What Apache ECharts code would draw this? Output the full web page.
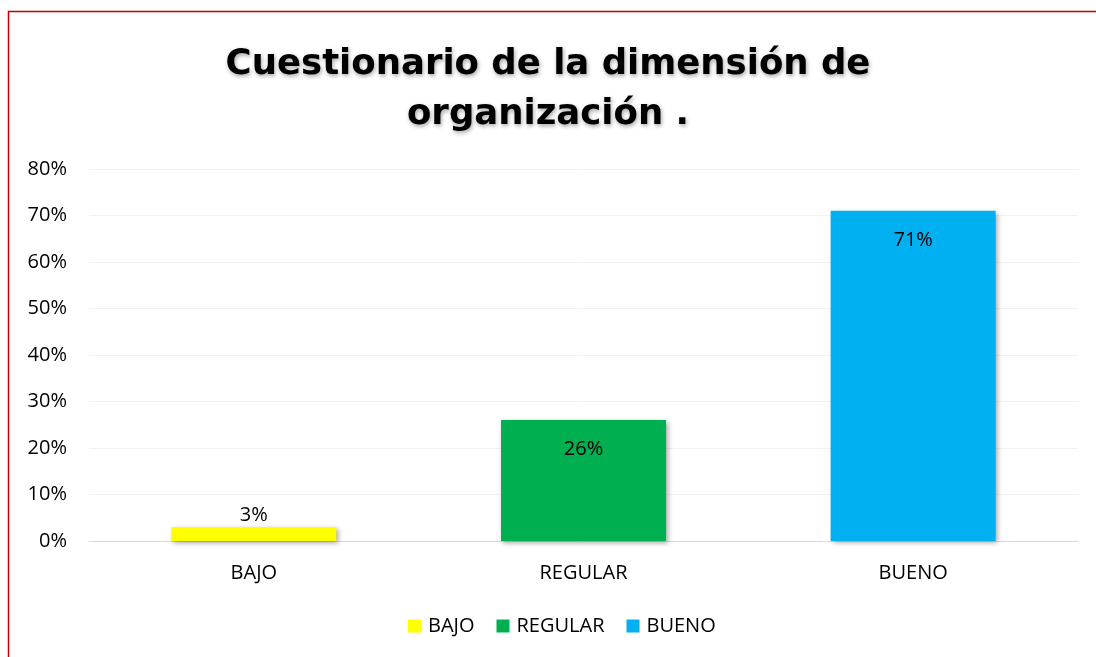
<!DOCTYPE html>
<html>
<head>
<meta charset="utf-8">
<script src="https://cdn.jsdelivr.net/npm/echarts@6/dist/echarts.min.js"></script>
<style>
    html, body { margin: 0; padding: 0; background: #fff; }
    #chart { width: 1096px; height: 657px; }
</style>
</head>
<body>
<div id="chart"></div>
<script>
    // datos
    const categories = ['BAJO', 'REGULAR', 'BUENO']
    const values = [3, 26, 71]
    const colors = ['#ffff00', '#00b050', '#00b0f0']
    const yTicks = [0, 10, 20, 30, 40, 50, 60, 70, 80]
    const titleText = 'Cuestionario de la dimensión de\norganización .'

    let chart = echarts.init(document.getElementById('chart'))

    let series = categories.map((name, i) => {
        let small = values[i] < 10
        return {
            name: name,
            type: 'bar',
            stack: 'total',
            barWidth: 165,
            data: values.map((v, j) => j === i ? v : '-'),
            itemStyle: {
                color: colors[i],
                shadowBlur: 5,
                shadowOffsetX: 2,
                shadowOffsetY: 2,
                shadowColor: 'rgba(0,0,0,0.35)'
            },
            label: {
                show: true,
                // la barra pequeña lleva la etiqueta arriba, las otras dentro
                position: small ? 'top' : 'insideTop',
                distance: small ? 2 : 19,
                formatter: p => p.value + '%',
                color: '#000',
                fontSize: 20,
                fontFamily: 'Open Sans'
            }
        }
    })

    let options = {
        animation: false,
        title: {
            text: titleText,
            left: 'center',
            top: 35,
            textStyle: {
                fontFamily: 'DejaVu Sans',
                fontWeight: 'bold',
                fontSize: 35.5,
                lineHeight: 50,
                color: '#000',
                textShadowColor: 'rgba(0,0,0,0.35)',
                textShadowBlur: 4,
                textShadowOffsetX: 1,
                textShadowOffsetY: 2
            }
        },
        legend: {
            bottom: 16,
            left: 403,
            icon: 'rect',
            itemWidth: 13,
            itemHeight: 13,
            itemGap: 22,
            textStyle: {
                fontFamily: 'Open Sans',
                fontSize: 20,
                color: '#000',
                padding: [0, 0, 0, 2]
            },
            data: categories
        },
        grid: {
            left: 89,
            right: 18,
            top: 169,
            bottom: 116
        },
        xAxis: {
            type: 'category',
            data: categories,
            axisLine: { lineStyle: { color: '#d9d9d9', width: 1 } },
            axisTick: { show: false },
            axisLabel: {
                color: '#000',
                fontSize: 20,
                fontFamily: 'Open Sans',
                margin: 22
            }
        },
        yAxis: {
            type: 'value',
            min: yTicks[0],
            max: yTicks[yTicks.length - 1],
            interval: 10,
            axisLine: { show: false },
            axisTick: { show: false },
            splitLine: { lineStyle: { color: '#f2f2f2' } },
            axisLabel: {
                color: '#000',
                fontSize: 20,
                fontFamily: 'Open Sans',
                margin: 22,
                formatter: v => v + '%'
            }
        },
        graphic: [{
            type: 'rect',
            shape: { x: 8.5, y: 11.5, width: 1200, height: 1000 },
            style: { fill: 'none', stroke: '#c00000', lineWidth: 1.5 },
            silent: true
        }],
        series: series
    }
    chart.setOption(options)
</script>
</body>
</html>
